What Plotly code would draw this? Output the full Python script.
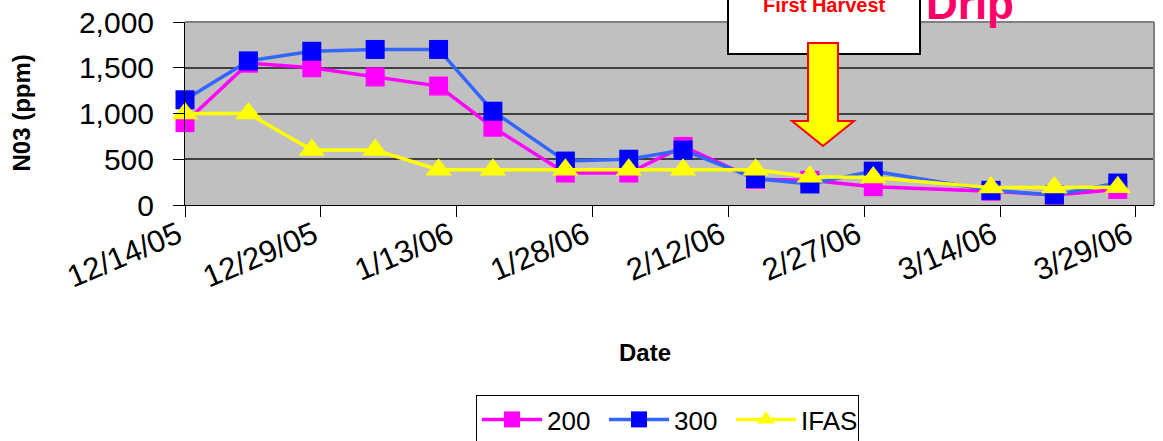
import plotly.graph_objects as go

# ---- data ----
dates = ['2005-12-14', '2005-12-21', '2005-12-28', '2006-01-04', '2006-01-11',
         '2006-01-17', '2006-01-25', '2006-02-01', '2006-02-07', '2006-02-15',
         '2006-02-21', '2006-02-28', '2006-03-13', '2006-03-20', '2006-03-27']
n200 = [900, 1550, 1500, 1400, 1300, 850, 350, 350, 640, 280, 270, 200, 150, 110, 170]
n300 = [1150, 1575, 1680, 1700, 1700, 1025, 480, 500, 600, 290, 230, 370, 160, 110, 240]
ifas = [1000, 1000, 600, 600, 385, 385, 385, 385, 385, 385, 310, 300, 190, 190, 195]

tick_dates = ['2005-12-14', '2005-12-29', '2006-01-13', '2006-01-28',
              '2006-02-12', '2006-02-27', '2006-03-14', '2006-03-29']
tick_text = ['12/14/05', '12/29/05', '1/13/06', '1/28/06',
             '2/12/06', '2/27/06', '3/14/06', '3/29/06']
y_ticks = [0, 500, 1000, 1500, 2000]

# ---- layout geometry ----
W, H = 1163, 441
L, R, T, B = 185, 9, 22, 236


def px(xp):
    return (xp - L) / (W - L - R)


def py(yp):
    return (H - B - yp) / (H - T - B)


FONT = 'Arial, Liberation Sans, sans-serif'

fig = go.Figure()
fig.add_trace(go.Scatter(
    x=dates, y=n200, name='200', mode='lines+markers',
    line=dict(color='#FF00FF', width=3.5),
    marker=dict(symbol='square', size=19, color='#FF00FF'),
    cliponaxis=False))
fig.add_trace(go.Scatter(
    x=dates, y=n300, name='300', mode='lines+markers',
    line=dict(color='#3366FF', width=3.5),
    marker=dict(symbol='square', size=19, color='#0000FF'),
    cliponaxis=False))
fig.add_trace(go.Scatter(
    x=dates, y=ifas, name='IFAS', mode='lines+markers',
    line=dict(color='#FFFF00', width=3.5),
    marker=dict(symbol='triangle-up', size=23, color='#FFFF00'),
    cliponaxis=False))

arrow = ('M {a},{b} L {c},{b} L {c},{d} L {e},{d} L {f},{g} L {h},{d} L {a},{d} Z'
         .format(a=px(808), b=py(43), c=px(838), d=py(121), e=px(854),
                 f=px(823), g=py(146), h=px(792)))

fig.update_layout(
    template='none',
    width=W, height=H,
    margin=dict(l=L, r=R, t=T, b=B, autoexpand=False),
    paper_bgcolor='white',
    plot_bgcolor='#C0C0C0',
    font=dict(family=FONT, color='black'),
    showlegend=True,
    legend=dict(orientation='h', x=px(667.5), xanchor='center',
                y=py(395), yanchor='top',
                font=dict(size=26, family=FONT, color='black'),
                bordercolor='black', borderwidth=1, bgcolor='white',
                entrywidth=52, itemwidth=60),
    xaxis=dict(type='date', range=['2005-12-14', '2006-03-31'],
               tickmode='array', tickvals=tick_dates, ticktext=tick_text,
               tickangle=-23, tickfont=dict(size=31, family=FONT, color='black'),
               ticks='outside', ticklen=11, tickcolor='black', tickwidth=1,
               showline=True, linecolor='black', linewidth=1,
               showgrid=False, zeroline=False, automargin=False,
               ticklabelstandoff=-12, ticklabelshift=-7),
    yaxis=dict(range=[0, 2000], tickmode='array', tickvals=y_ticks,
               tickformat=',', tickfont=dict(size=30, family=FONT, color='black'),
               ticks='outside', ticklen=11, tickcolor='black', tickwidth=1,
               showline=True, linecolor='black', linewidth=1,
               showgrid=True, gridcolor='#404040', gridwidth=1.5,
               zeroline=False, automargin=False, ticklabelstandoff=13),
    shapes=[
        dict(type='line', xref='paper', yref='paper', x0=0, x1=1, y0=1, y1=1,
             line=dict(color='#808080', width=2), layer='above'),
        dict(type='line', xref='paper', yref='paper', x0=1, x1=1, y0=0, y1=1,
             line=dict(color='#808080', width=2), layer='above'),
        dict(type='rect', xref='paper', yref='paper',
             x0=px(728), x1=px(920), y0=py(54), y1=py(-10),
             fillcolor='white', line=dict(color='black', width=2), layer='above'),
        dict(type='path', xref='paper', yref='paper', path=arrow,
             fillcolor='#FFFF00', line=dict(color='#FF0000', width=2), layer='above'),
    ],
    annotations=[
        dict(text='<b>First Harvest</b>', xref='paper', yref='paper',
             x=px(824), y=py(4.5), xanchor='center', yanchor='middle',
             showarrow=False, font=dict(size=20, color='#FF0000', family=FONT)),
        dict(text='<b>Drip</b>', xref='paper', yref='paper',
             x=px(970), y=py(3), xanchor='center', yanchor='middle',
             showarrow=False, font=dict(size=44, color='#FF0066', family=FONT)),
        dict(text='<b>N03 (ppm)</b>', xref='paper', yref='paper',
             x=px(21), y=py(113.5), xanchor='center', yanchor='middle',
             textangle=-90, showarrow=False,
             font=dict(size=24, color='black', family=FONT)),
        dict(text='<b>Date</b>', xref='paper', yref='paper',
             x=px(645), y=py(352), xanchor='center', yanchor='middle',
             showarrow=False, font=dict(size=24, color='black', family=FONT)),
    ],
)

fig.write_html('out.html',
               config={'displayModeBar': False},
               post_script="document.body.style.margin='0';"
                           "document.body.style.overflow='hidden';")
